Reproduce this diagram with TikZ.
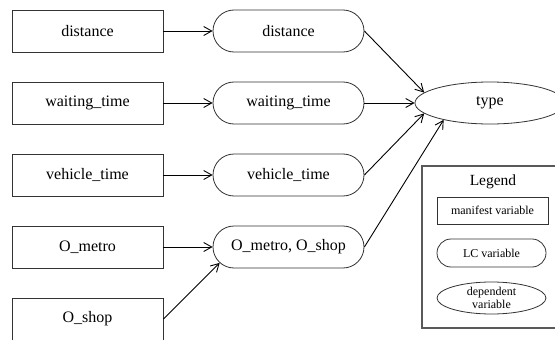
\documentclass[tikz,border=0pt]{standalone}
\usepackage{fontspec}
\setmainfont{Liberation Serif}
\usetikzlibrary{shapes.geometric,shapes.misc,arrows.meta}
\begin{document}
\begin{tikzpicture}[x=1pt,y=-1pt,
  manifest/.style={draw=black!80,line width=0.8pt,rectangle,minimum width=151pt,minimum height=42pt,inner sep=0pt,font=\fontsize{16}{19}\selectfont},
  lcvar/.style={draw=black!80,line width=0.8pt,rounded rectangle,minimum width=151pt,minimum height=42pt,inner sep=0pt,font=\fontsize{16}{19}\selectfont},
  depvar/.style={draw=black!80,line width=0.8pt,ellipse,minimum width=150pt,minimum height=42pt,inner sep=0pt,font=\fontsize{16}{19}\selectfont},
  arr/.style={line width=0.9pt,-{Straight Barb[length=8pt,width=9pt]}},
  legitem/.style={draw=black!80,line width=0.8pt,inner sep=0pt,font=\fontsize{12}{13.5}\selectfont,align=center}]
\clip (0,0) rectangle (555,340);
\fill[white] (0,0) rectangle (555,340);
% legend box
\node[draw=black!65,line width=1.3pt,rectangle,minimum width=143pt,minimum height=162pt,inner sep=0pt] (legbox) at (493.5,247) {};
\node[font=\fontsize{15.5}{18}\selectfont] (legtitle) at (493,182) {Legend};
\node[legitem,rectangle,minimum width=111pt,minimum height=27pt] (legm) at (492.5,210.5) {manifest variable};
\node[legitem,rounded rectangle,minimum width=109pt,minimum height=28pt] (legl) at (491.5,253) {LC variable};
\node[legitem,ellipse,minimum width=109pt,minimum height=32pt] (legd) at (491.5,298) {dependent\\variable};
% manifest variables
\node[manifest] (md) at (87.5,31) {distance};
\node[manifest] (mw) at (87.5,103) {waiting\_time};
\node[manifest] (mv) at (87.5,175) {vehicle\_time};
\node[manifest] (mm) at (87.5,247) {O\_metro};
\node[manifest] (ms) at (87.5,319) {O\_shop};
% LC variables
\node[lcvar] (ld) at (288.5,31) {distance};
\node[lcvar] (lw) at (288.5,103) {waiting\_time};
\node[lcvar] (lv) at (288.5,175) {vehicle\_time};
\node[lcvar] (lo) at (288.5,247) {O\_metro, O\_shop};
% dependent
\node[depvar] (type) at (490,103) {type};
% arrows
\draw[arr] (md.east) -- (ld.west);
\draw[arr] (mw.east) -- (lw.west);
\draw[arr] (mv.east) -- (lv.west);
\draw[arr] (mm.east) -- (lo.west);
\draw[arr] (ms.east) -- (lo.193);
\draw[arr] (ld.east) -- (type.171);
\draw[arr] (lw.east) -- (type.west);
\draw[arr] (lv.east) -- (type.189);
\draw[arr] (lo.east) -- (type.200);
\end{tikzpicture}
\end{document}
